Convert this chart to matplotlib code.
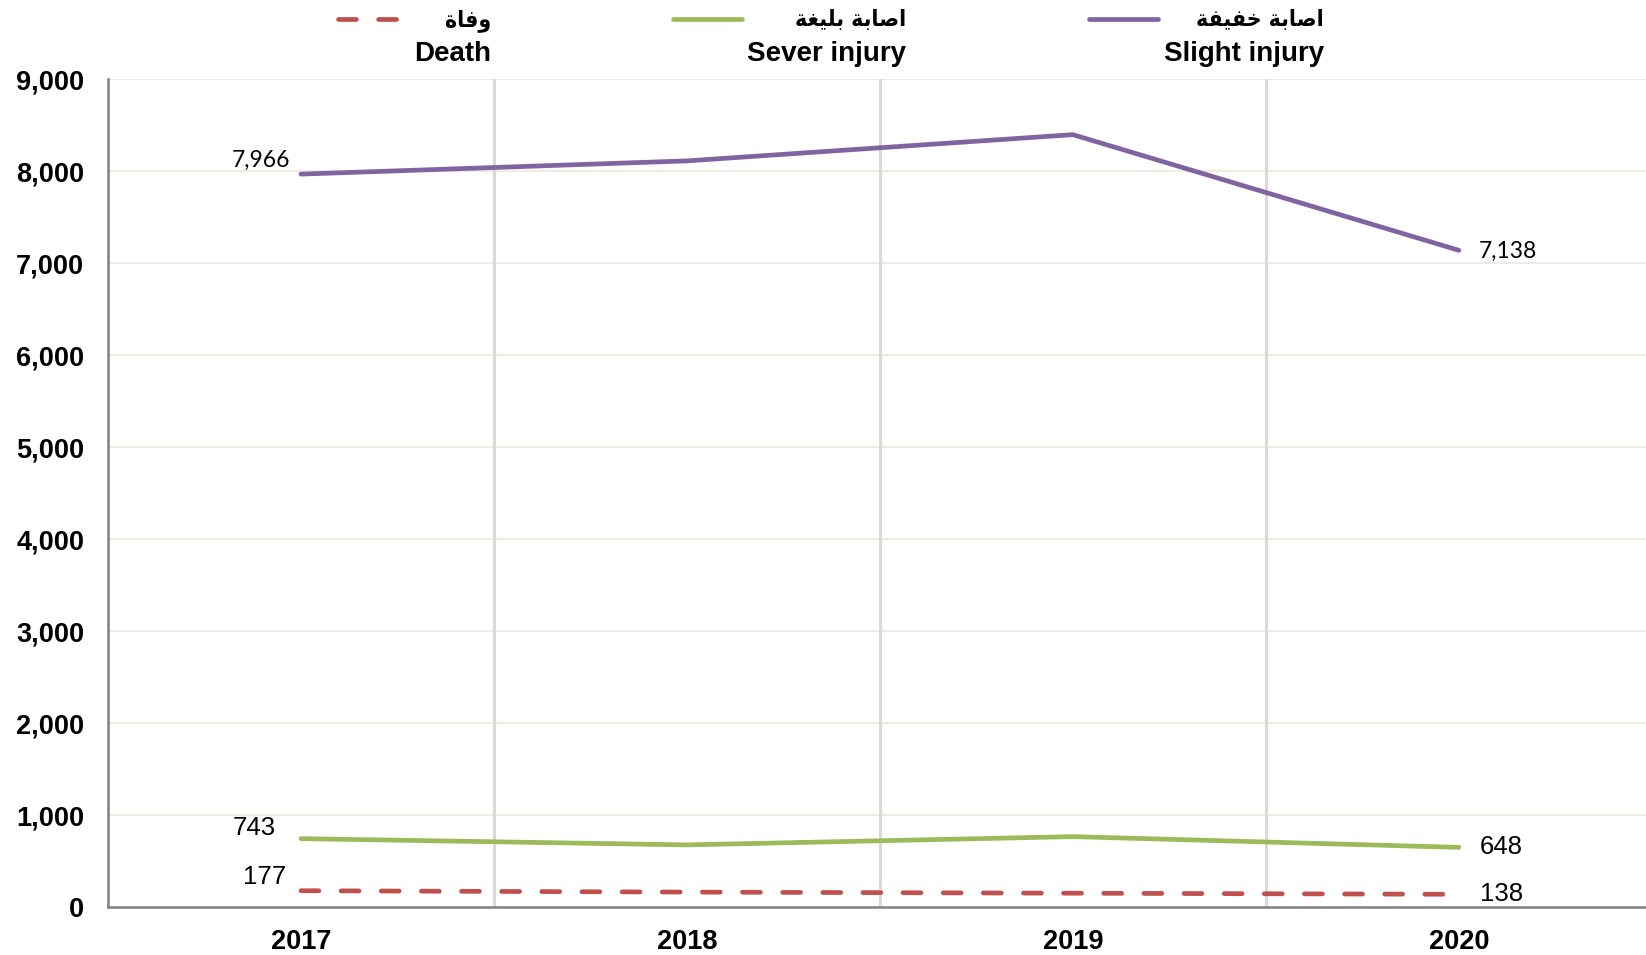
import matplotlib
matplotlib.use("Agg")
import matplotlib.pyplot as plt
from matplotlib.lines import Line2D
from matplotlib.ticker import FuncFormatter, MultipleLocator

# ---------------- data ----------------
years = ["2017", "2018", "2019", "2020"]
slight_injury = [7966, 8110, 8395, 7138]
severe_injury = [743, 675, 765, 648]
death = [177, 162, 150, 138]

labels_ar = ["وفاة", "اصابة بليغة", "اصابة خفيفة"]
labels_en = ["Death", "Sever injury", "Slight injury"]

# ---------------- simple Arabic shaping for display ----------------
_forms = {  # isolated, final, initial, medial
    "ا": ("\uFE8D", "\uFE8E", None, None),
    "ب": ("\uFE8F", "\uFE90", "\uFE91", "\uFE92"),
    "ة": ("\uFE93", "\uFE94", None, None),
    "خ": ("\uFEA5", "\uFEA6", "\uFEA7", "\uFEA8"),
    "ص": ("\uFEB9", "\uFEBA", "\uFEBB", "\uFEBC"),
    "غ": ("\uFECD", "\uFECE", "\uFECF", "\uFED0"),
    "ف": ("\uFED1", "\uFED2", "\uFED3", "\uFED4"),
    "ل": ("\uFEDD", "\uFEDE", "\uFEDF", "\uFEE0"),
    "ي": ("\uFEF1", "\uFEF2", "\uFEF3", "\uFEF4"),
    "و": ("\uFEED", "\uFEEE", None, None),
}


def shape_arabic(text):
    out = []
    for word in text.split(" "):
        chars = list(word)
        shaped = []
        for i, c in enumerate(chars):
            f = _forms.get(c)
            if f is None:
                shaped.append(c)
                continue
            prev = chars[i - 1] if i > 0 else None
            nxt = chars[i + 1] if i < len(chars) - 1 else None
            jp = prev is not None and prev in _forms and _forms[prev][2] is not None
            jn = nxt is not None and f[2] is not None
            if jp and jn:
                shaped.append(f[3])
            elif jp:
                shaped.append(f[1])
            elif jn:
                shaped.append(f[2])
            else:
                shaped.append(f[0])
        out.append("".join(shaped))
    return " ".join(out)[::-1]


# ---------------- styling ----------------
c_death = "#C0504D"
c_severe = "#9BBB59"
c_slight = "#8064A2"
LW = 3.4
DASH = (3.8, 4.7)

W, H = 1646, 955
fig = plt.figure(figsize=(W / 100, H / 100), dpi=100)
ax = fig.add_axes([108 / W, 1 - 907 / H, 1 - 108 / W, (907 - 79) / H])

x = [i + 0.5 for i in range(len(years))]

ax.plot(x, slight_injury, color=c_slight, lw=LW, solid_capstyle="round", zorder=3)
ax.plot(x, severe_injury, color=c_severe, lw=LW, solid_capstyle="round", zorder=3)
ax.plot(x, death, color=c_death, lw=LW, dashes=DASH, dash_capstyle="round", zorder=3)

ax.set_xlim(0, 3.985)
ax.set_ylim(0, 9000)
ax.yaxis.set_major_locator(MultipleLocator(1000))
ax.yaxis.set_major_formatter(FuncFormatter(lambda v, p: f"{int(v):,}"))
ax.set_xticks(x)
ax.set_xticklabels(years)

# grid lines
for yv in range(1000, 9001, 1000):
    ax.axhline(yv, color="#EFEBE3", lw=1.5, zorder=1)
for xv in range(1, len(years)):
    ax.axvline(xv, color="#D9D9D9", lw=2.2, zorder=1)

for s in ["top", "right"]:
    ax.spines[s].set_visible(False)
for s in ["left", "bottom"]:
    ax.spines[s].set_color("#808080")
    ax.spines[s].set_linewidth(1.8)

ax.tick_params(axis="both", length=0)
ax.tick_params(axis="y", pad=17)
ax.tick_params(axis="x", pad=16)
for lab in ax.get_yticklabels():
    lab.set_fontfamily("Liberation Sans")
    lab.set_fontweight("bold")
    lab.set_fontsize(19.5)
for lab in ax.get_xticklabels():
    lab.set_fontfamily("Liberation Sans")
    lab.set_fontweight("bold")
    lab.set_fontsize(19.5)

# data labels
calibri_like = "Lato"
ax.annotate(f"{slight_injury[0]:,}", (x[0], slight_injury[0]), xytext=(-8, 10),
            textcoords="offset points", ha="right", va="center",
            fontsize=16.5, family=calibri_like)
ax.annotate(f"{slight_injury[-1]:,}", (x[-1], slight_injury[-1]), xytext=(14, -1),
            textcoords="offset points", ha="left", va="center",
            fontsize=16.5, family=calibri_like)
ax.annotate(f"{severe_injury[0]:,}", (x[0], severe_injury[0]), xytext=(-18, 8),
            textcoords="offset points", ha="right", va="center",
            fontsize=18.5, family="Liberation Sans")
ax.annotate(f"{severe_injury[-1]:,}", (x[-1], severe_injury[-1]), xytext=(15, 0),
            textcoords="offset points", ha="left", va="center",
            fontsize=18.5, family="Liberation Sans")
ax.annotate(f"{death[0]:,}", (x[0], death[0]), xytext=(-11, 10),
            textcoords="offset points", ha="right", va="center",
            fontsize=18.5, family="Liberation Sans")
ax.annotate(f"{death[-1]:,}", (x[-1], death[-1]), xytext=(15, 0),
            textcoords="offset points", ha="left", va="center",
            fontsize=18.5, family="Liberation Sans")

# legend (drawn manually: Arabic over English)
leg_colors = [c_death, c_severe, c_slight]
leg_line_x = [(338, 399), (673, 742), (1089, 1158)]
leg_text_right = [491, 906, 1324]
for i in range(3):
    x0, x1 = leg_line_x[i]
    kw = dict(dashes=DASH, dash_capstyle="round") if i == 0 else dict(solid_capstyle="round")
    fig.add_artist(Line2D([x0 / W, x1 / W], [1 - 19 / H, 1 - 19 / H],
                          color=leg_colors[i], lw=LW, transform=fig.transFigure, **kw))
    fig.text(leg_text_right[i] / W, 1 - 20 / H, shape_arabic(labels_ar[i]),
             ha="right", va="center", fontsize=16.5, fontweight="bold",
             fontstretch="condensed", family=["DejaVu Sans"])
    fig.text(leg_text_right[i] / W, 1 - 54 / H, labels_en[i],
             ha="right", va="center", fontsize=20, fontweight="bold",
             family="Liberation Sans")

fig.savefig("out.png", dpi=100)
